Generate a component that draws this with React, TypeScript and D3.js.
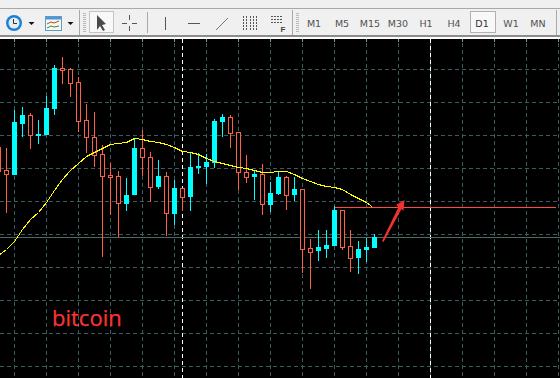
import React from "react";
import * as d3 from "d3";

const opens = [147,170,175,124,115,136,135,109,68,69,82,120,137,154,175,176,204,195,148,157,187,176,214,188,197,168,167,163,122,117,132,172,177,174,205,194,177,195,189,248,251,249,246,210,246,258,250,248];
const closes = [171,174,122,115,135,134,108,68,70,83,121,137,155,176,177,203,195,148,157,187,176,213,188,197,167,166,162,121,117,133,172,177,174,204,193,177,195,189,249,252,247,245,210,247,258,249,247,237];
const highs = [140,148,110,107,113,120,96,65,57,68,77,104,112,145,163,171,178,138,130,152,160,172,180,188,153,153,154,119,114,115,132,155,170,164,182,172,176,177,189,239,230,230,206,210,230,241,238,234];
const lows = [185,213,175,137,149,144,135,115,84,97,132,153,167,257,215,237,211,195,176,202,189,236,225,211,211,174,184,168,137,148,190,183,200,215,212,195,210,201,273,289,261,258,246,250,272,274,262,248];
const maValues = [255,249,241,229,219,212,202,190,179,170,163,156,152,148,144,143,142,138,139,141,142,144,147,151,152,154,158,161,163,165,167,168,170,172,172,171,171,174,178,181,184,186,187,189,194,198,202,206];
const gridLevels = [69,102,135,168,201,234,267,300,333,366];
const timeframes = ["M1","M5","M15","M30","H1","H4","D1","W1","MN"];
const timeframeCenters = [314,342,370,398,426,454,482,511,538];
const activeTimeframe = "D1";
const separators = [182.5,430.5];
const bidLevel = 237;
const hLineLevel = 207;

const W = 560, H = 378, TOP = 39;
const BULL = "#00ffff", BEAR = "#ff5f45", GRID = "#3a5c5c", MA = "#ffff00";

const y = d3.scaleLinear().domain([0, H]).range([0, H]);
const x = d3.scaleLinear().domain([0, 47]).range([-1.5, 374.5]);
const gridX = d3.range(14.5, W, 32);
const ma = d3.line<number>().x((_, i) => (i === 47 ? 372 : x(i))).y((d) => y(d) + 0.5).curve(d3.curveLinear);

function Grip({ gx }: { gx: number }) {
  return (
    <g>
      {d3.range(13, 33, 2).map((gy) => (
        <rect key={gy} x={gx} y={gy} width={3} height={1} fill="#b8b8b8" />
      ))}
    </g>
  );
}

function Toolbar() {
  const dark = "#555";
  return (
    <g>
      <rect x={0} y={0} width={W} height={37} fill="#f0f0f0" />
      <rect x={0} y={8} width={W} height={1} fill="#a8a8a8" />
      <rect x={0} y={35} width={W} height={2} fill="#8c8c8c" />
      <rect x={0} y={37} width={W} height={2} fill="#ffffff" />
      <circle cx={14} cy={23} r={8} fill="#1a80d6" />
      <circle cx={14} cy={23} r={5.5} fill="#e4ecf0" />
      <path d="M13.5 19V23.5H17" stroke="#333" fill="none" />
      <path d="M28.5 22h6l-3 3z" fill="#111" />
      <rect x={45.5} y={16.5} width={16} height={14} fill="#f7f7f0" stroke="#5a9ccc" />
      <rect x={46} y={17} width={15} height={2.5} fill="#4f97d4" />
      <path d="M47 24l4-2 3 1 5-2" stroke="#b5482a" fill="none" />
      <path d="M47 28l4-2 3 1 5-1" stroke="#2f8f3f" fill="none" />
      <path d="M67.5 22h6l-3 3z" fill="#111" />
      <rect x={79} y={10} width={1} height={25} fill="#a8a8a8" />
      <Grip gx={83} />
      <rect x={89.5} y={11.5} width={24} height={21} fill="#f8f8f8" stroke="#c4c4c4" />
      <path d="M97 15l0 15 3-4 3 5 2-1-3-5 4-1z" fill="#4a4a4a" />
      <path d="M129.5 15v5M129.5 26v5M122 23.5h5M132 23.5h5" stroke={dark} fill="none" />
      <rect x={147} y={12} width={1} height={21} fill="#a8a8a8" />
      <path d="M165.5 17v13" stroke={dark} />
      <path d="M188 23.5h12" stroke={dark} />
      <path d="M216 30l12-12" stroke="#777" />
      <path d="M243.5 16v14M246.5 16v14M250.5 16v14M253.5 16v14M256.5 16v14" stroke={dark} strokeDasharray="2 1" />
      <path d="M271 16.5h12M271 19.5h12M271 22.5h12" stroke={dark} strokeDasharray="2 1" />
      <text x={283} y={32} fontFamily="'Liberation Sans'" fontSize={8} fontWeight={700} textAnchor="middle" fill="#444">F</text>
      <rect x={292} y={10} width={1} height={25} fill="#a8a8a8" />
      <Grip gx={296} />
      <rect x={470.5} y={11.5} width={25} height={21} fill="#f8f8f8" stroke="#b0b0b0" />
      {timeframes.map((t, i) => (
        <text key={t} x={timeframeCenters[i]} y={27} fontFamily="'DejaVu Sans'" fontSize={9.5} textAnchor="middle" fill={t === activeTimeframe ? "#333" : "#505050"}>{t}</text>
      ))}
      <rect x={556} y={10} width={1} height={25} fill="#a8a8a8" />
    </g>
  );
}

export default function App() {
  return (
    <svg width={W} height={H} style={{ position: "fixed", left: 0, top: 0, display: "block" }}>
      <rect width={W} height={H} fill="#000" />
      <g shapeRendering="crispEdges">
        {gridX.map((g) => (
          <g key={g}>
            <line x1={g} x2={g} y1={TOP + 4} y2={H} stroke={GRID} strokeDasharray="4 3" />
            <line x1={g} x2={g} y1={TOP} y2={TOP + 3} stroke="#7f9f9f" />
          </g>
        ))}
        {gridLevels.map((l) => (
          <line key={l} x1={0} x2={W} y1={y(l) + 0.5} y2={y(l) + 0.5} stroke={GRID} strokeDasharray="4 3" />
        ))}
        {separators.map((s) => (
          <line key={s} x1={s} x2={s} y1={TOP} y2={H} stroke="#fff" strokeDasharray="4 3" />
        ))}
        <line x1={0} x2={W} y1={y(bidLevel) + 0.5} y2={y(bidLevel) + 0.5} stroke="#4a6a66" />
        {opens.map((o, i) => {
          const c = closes[i];
          const bull = c < o;
          const col = bull ? BULL : BEAR;
          const cx = x(i);
          const top = Math.min(o, c), bot = Math.max(o, c);
          return (
            <g key={i}>
              <line x1={cx} x2={cx} y1={y(highs[i])} y2={y(lows[i])} stroke={col} />
              {bull ? (
                <rect x={cx - 2.5} y={y(top)} width={5} height={y(bot) - y(top)} fill={col} />
              ) : (
                <rect x={cx - 2} y={y(top) + 0.5} width={4} height={y(bot) - y(top)} fill="#000" stroke={col} />
              )}
            </g>
          );
        })}
        <line x1={x(42)} x2={556} y1={y(hLineLevel) + 0.5} y2={y(hLineLevel) + 0.5} stroke="#ff4a3a" />
        <path d={ma(maValues) ?? ""} fill="none" stroke={MA} strokeWidth={1} />
      </g>
      <path d="M382 241L398.5 207L396 205L404.5 200L403.5 211L401.5 209L383.5 242Z" fill="#f0322e" />
      <text x={52} y={325.5} fontFamily="'Open Sans'" fontSize={22} fill="#ff3333" stroke="#ff3333" strokeWidth={0.25}>bitcoin</text>
      <Toolbar />
    </svg>
  );
}
